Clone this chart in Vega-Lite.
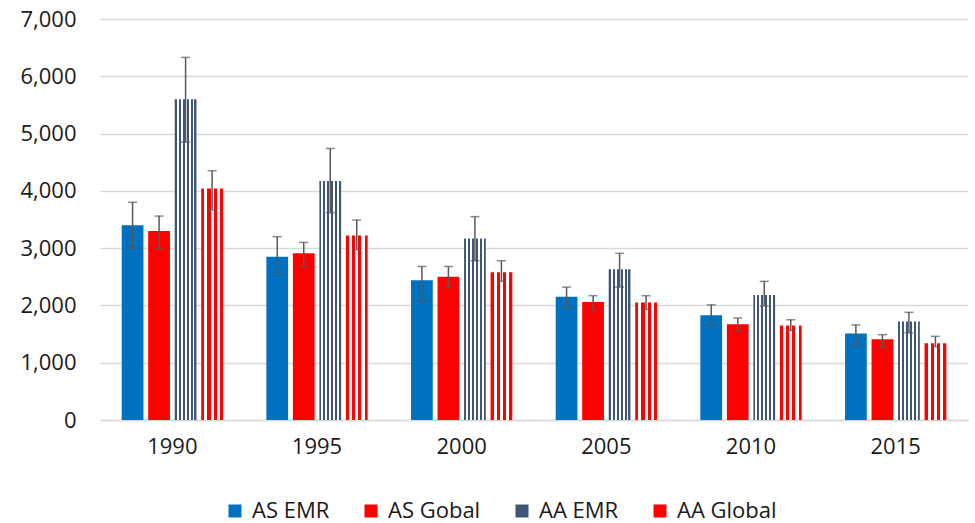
{
  "$schema": "https://vega.github.io/schema/vega-lite/v6.json",
  "width": 868,
  "height": 401,
  "autosize": "none",
  "padding": {"left": 100, "top": 19, "right": 7, "bottom": 103},
  "background": "white",
  "config": {
    "font": "Open Sans",
    "view": {"stroke": null},
    "axis": {"labelFont": "Open Sans", "labelColor": "#1a1a1a", "labelFontSize": 22, "title": null}
  },
  "data": {
    "values": [
      {"year": "1990", "series": "AS EMR", "value": 3400, "lo": 3000, "hi": 3800},
      {"year": "1990", "series": "AS Gobal", "value": 3300, "lo": 2990, "hi": 3560},
      {"year": "1990", "series": "AA EMR", "value": 5600, "lo": 4850, "hi": 6330},
      {"year": "1990", "series": "AA Global", "value": 4040, "lo": 3670, "hi": 4350},
      {"year": "1995", "series": "AS EMR", "value": 2850, "lo": 2540, "hi": 3200},
      {"year": "1995", "series": "AS Gobal", "value": 2910, "lo": 2670, "hi": 3100},
      {"year": "1995", "series": "AA EMR", "value": 4170, "lo": 3620, "hi": 4740},
      {"year": "1995", "series": "AA Global", "value": 3220, "lo": 2970, "hi": 3490},
      {"year": "2000", "series": "AS EMR", "value": 2440, "lo": 2080, "hi": 2680},
      {"year": "2000", "series": "AS Gobal", "value": 2500, "lo": 2310, "hi": 2680},
      {"year": "2000", "series": "AA EMR", "value": 3170, "lo": 2780, "hi": 3550},
      {"year": "2000", "series": "AA Global", "value": 2580, "lo": 2420, "hi": 2780},
      {"year": "2005", "series": "AS EMR", "value": 2150, "lo": 1960, "hi": 2320},
      {"year": "2005", "series": "AS Gobal", "value": 2060, "lo": 1910, "hi": 2170},
      {"year": "2005", "series": "AA EMR", "value": 2630, "lo": 2320, "hi": 2910},
      {"year": "2005", "series": "AA Global", "value": 2050, "lo": 1930, "hi": 2170},
      {"year": "2010", "series": "AS EMR", "value": 1830, "lo": 1650, "hi": 2010},
      {"year": "2010", "series": "AS Gobal", "value": 1670, "lo": 1550, "hi": 1780},
      {"year": "2010", "series": "AA EMR", "value": 2180, "lo": 1990, "hi": 2420},
      {"year": "2010", "series": "AA Global", "value": 1650, "lo": 1560, "hi": 1750},
      {"year": "2015", "series": "AS EMR", "value": 1510, "lo": 1300, "hi": 1660},
      {"year": "2015", "series": "AS Gobal", "value": 1410, "lo": 1270, "hi": 1490},
      {"year": "2015", "series": "AA EMR", "value": 1720, "lo": 1520, "hi": 1880},
      {"year": "2015", "series": "AA Global", "value": 1340, "lo": 1280, "hi": 1460}
    ]
  },
  "encoding": {
    "x": {
      "field": "year", "type": "nominal",
      "scale": {"paddingInner": 0.3, "paddingOuter": 0.15},
      "axis": {"labelAngle": 0, "ticks": false, "domain": true, "domainColor": "#D9D9D9", "domainWidth": 1.3, "labelPadding": 16, "grid": false}
    },
    "xOffset": {
      "field": "series", "type": "nominal",
      "sort": ["AS EMR", "AS Gobal", "AA EMR", "AA Global"],
      "scale": {"paddingInner": 0.18, "paddingOuter": 0}
    }
  },
  "layer": [
    {
      "mark": {"type": "bar"},
      "encoding": {
        "y": {
          "field": "value", "type": "quantitative",
          "scale": {"domain": [0, 7000], "nice": false},
          "axis": {"values": [0, 1000, 2000, 3000, 4000, 5000, 6000, 7000], "format": ",d", "domain": false, "ticks": false, "grid": true, "gridColor": "#D9D9D9", "gridWidth": 1.3, "labelPadding": 24}
        },
        "color": {
          "field": "series", "type": "nominal",
          "sort": ["AS EMR", "AS Gobal", "AA EMR", "AA Global"],
          "scale": {"domain": ["AS EMR", "AS Gobal", "AA EMR", "AA Global"], "range": ["#0070C0", "#FF0000", "#3F5677", "#FF0000"]},
          "condition": [
            {"test": "datum.series === 'AA EMR'", "value": {"gradient": "linear", "x1": 0, "y1": 0, "x2": 1, "y2": 0, "stops": [
              {"offset": 0, "color": "#3F5677"}, {"offset": 0.0909, "color": "#3F5677"},
              {"offset": 0.0909, "color": "#FFFFFF"}, {"offset": 0.1818, "color": "#FFFFFF"},
              {"offset": 0.1818, "color": "#3F5677"}, {"offset": 0.2727, "color": "#3F5677"},
              {"offset": 0.2727, "color": "#FFFFFF"}, {"offset": 0.3636, "color": "#FFFFFF"},
              {"offset": 0.3636, "color": "#3F5677"}, {"offset": 0.4545, "color": "#3F5677"},
              {"offset": 0.4545, "color": "#FFFFFF"}, {"offset": 0.5455, "color": "#FFFFFF"},
              {"offset": 0.5455, "color": "#3F5677"}, {"offset": 0.6364, "color": "#3F5677"},
              {"offset": 0.6364, "color": "#FFFFFF"}, {"offset": 0.7273, "color": "#FFFFFF"},
              {"offset": 0.7273, "color": "#3F5677"}, {"offset": 0.8182, "color": "#3F5677"},
              {"offset": 0.8182, "color": "#FFFFFF"}, {"offset": 0.9091, "color": "#FFFFFF"},
              {"offset": 0.9091, "color": "#3F5677"}, {"offset": 1, "color": "#3F5677"}
            ]}},
            {"test": "datum.series === 'AA Global'", "value": {"gradient": "linear", "x1": 0, "y1": 0, "x2": 1, "y2": 0, "stops": [
              {"offset": 0, "color": "#FF0000"}, {"offset": 0.1429, "color": "#FF0000"},
              {"offset": 0.1429, "color": "#FFFFFF"}, {"offset": 0.2857, "color": "#FFFFFF"},
              {"offset": 0.2857, "color": "#FF0000"}, {"offset": 0.4286, "color": "#FF0000"},
              {"offset": 0.4286, "color": "#FFFFFF"}, {"offset": 0.5714, "color": "#FFFFFF"},
              {"offset": 0.5714, "color": "#FF0000"}, {"offset": 0.7143, "color": "#FF0000"},
              {"offset": 0.7143, "color": "#FFFFFF"}, {"offset": 0.8571, "color": "#FFFFFF"},
              {"offset": 0.8571, "color": "#FF0000"}, {"offset": 1, "color": "#FF0000"}
            ]}}
          ],
          "legend": {
            "title": null,
            "orient": "none",
            "legendX": 124,
            "legendY": 481,
            "direction": "horizontal",
            "columns": 4,
            "columnPadding": 30,
            "symbolType": "square",
            "symbolSize": 169,
            "symbolStrokeWidth": 0,
            "labelFont": "Open Sans",
            "labelFontSize": 22,
            "labelColor": "#1a1a1a",
            "labelOffset": 6,
            "padding": 0,
            "encode": {
              "symbols": {
                "update": {
                  "fill": {
                    "value": {"signal": "datum.value === 'AA EMR' ? {gradient: 'linear', x1: 1, y1: 0, x2: 0, y2: 1, stops: [{offset: 0, color: '#FFFFFF'}, {offset: 0.1667, color: '#FFFFFF'}, {offset: 0.1667, color: '#3F5677'}, {offset: 0.3333, color: '#3F5677'}, {offset: 0.3333, color: '#FFFFFF'}, {offset: 0.5, color: '#FFFFFF'}, {offset: 0.5, color: '#3F5677'}, {offset: 0.6667, color: '#3F5677'}, {offset: 0.6667, color: '#FFFFFF'}, {offset: 0.8333, color: '#FFFFFF'}, {offset: 0.8333, color: '#3F5677'}, {offset: 1, color: '#3F5677'}]} : datum.value === 'AA Global' ? {gradient: 'linear', x1: 1, y1: 0, x2: 0, y2: 1, stops: [{offset: 0, color: '#FFFFFF'}, {offset: 0.35, color: '#FFFFFF'}, {offset: 0.35, color: '#FF0000'}, {offset: 0.6, color: '#FF0000'}, {offset: 0.6, color: '#FFFFFF'}, {offset: 0.85, color: '#FFFFFF'}, {offset: 0.85, color: '#FF0000'}, {offset: 1, color: '#FF0000'}]} : scale('color', datum.value)"}
                  }
                }
              }
            }
          }
        }
      }
    },
    {
      "mark": {"type": "rule", "color": "#595959", "strokeWidth": 1.5},
      "encoding": {
        "y": {"field": "lo", "type": "quantitative"},
        "y2": {"field": "hi"}
      }
    },
    {
      "mark": {"type": "tick", "color": "#595959", "thickness": 1.5, "size": 9, "orient": "horizontal"},
      "encoding": {"y": {"field": "hi", "type": "quantitative"}}
    },
    {
      "mark": {"type": "tick", "color": "#595959", "thickness": 1.5, "size": 9, "orient": "horizontal"},
      "encoding": {"y": {"field": "lo", "type": "quantitative"}}
    }
  ]
}
